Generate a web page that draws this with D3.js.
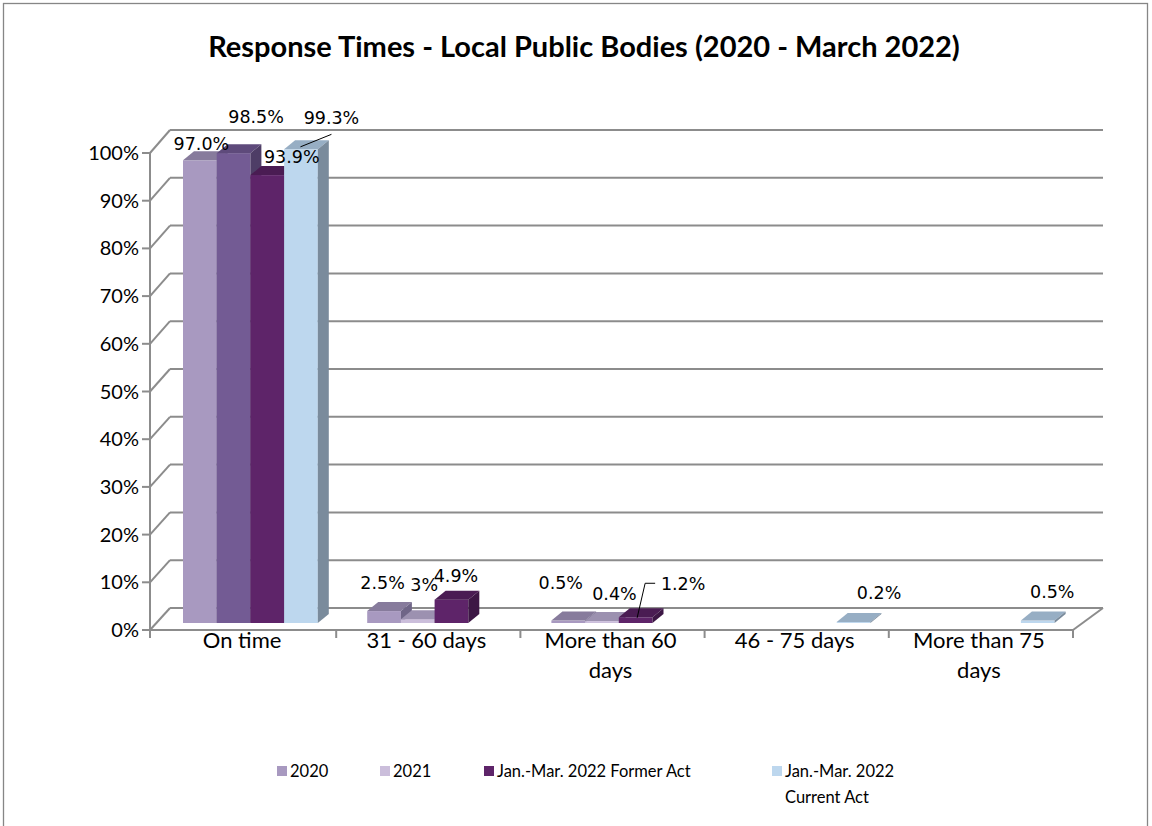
<!DOCTYPE html>
<html><head><meta charset="utf-8">
<script src="https://cdn.jsdelivr.net/npm/d3@7"></script>
<style>
html,body{margin:0;padding:0;background:#fff;}
text{font-family:Lato,"Open Sans",sans-serif;fill:#000;}
</style></head>
<body><svg id="c" width="1152" height="826"></svg>
<script>
// ---------- data ----------
const categories = ["On time", "31 - 60 days", "More than 60 days", "46 - 75 days", "More than 75 days"];
const seriesNames = ["2020", "2021", "Jan.-Mar. 2022 Former Act", "Jan.-Mar. 2022 Current Act"];
const values2020    = [97.0, 2.5, 0.5, null, null];
const values2021    = [98.5, 0.8, 0.4, null, null];
const valuesFormer  = [93.9, 4.9, 1.2, null, null];
const valuesCurrent = [99.3, null, null, 0.2, 0.5];
const labels2020    = ["97.0%", "2.5%", "0.5%", null, null];
const labels2021    = ["98.5%", "3%", "0.4%", null, null];
const labelsFormer  = ["93.9%", "4.9%", "1.2%", null, null];
const labelsCurrent = ["99.3%", null, null, "0.2%", "0.5%"];
const yTicks = [0, 10, 20, 30, 40, 50, 60, 70, 80, 90, 100];
const title = "Response Times - Local Public Bodies (2020 - March 2022)";

const seriesValues = [values2020, values2021, valuesFormer, valuesCurrent];
const seriesLabels = [labels2020, labels2021, labelsFormer, labelsCurrent];

// ---------- styles ----------
const faceColors = [
  {front:"#A899C0", top:"#877B9C", side:"#6F6587"},
  {front:"#CBBEDB", top:"#9C91B0", side:"#8A809C"},
  {front:"#5E2469", top:"#4A1C53", side:"#3D1745"},
  {front:"#BDD7EE", top:"#97AEC4", side:"#7A8B9C"}
];
// the 2021 "On time" bar is drawn in a deeper purple in the original
const pointOverride = {"1-0": {front:"#735B94", top:"#5E4A7B", side:"#4E3D66"}};
// manual label nudges (dx, dy) as in the original chart
const labelNudge = {
  "0-0":[-4,5], "1-0":[17,-14], "2-0":[19,4], "3-0":[25,-10],
  "0-1":[-7,-6], "1-1":[1,-12], "2-1":[-1,-2],
  "0-2":[-13,-16], "1-2":[7,-5], "2-2":[42,-12],
  "3-3":[20,-7], "3-4":[9,-7]
};
const leaders = {"3-0":"diag", "2-2":"elbow"};

const svg = d3.select("#c");
const gridColor = "#8C8C8C";

// chart border
svg.append("rect").attr("x",3.5).attr("y",3.5).attr("width",1144).attr("height",830)
  .attr("fill","none").attr("stroke","#868686").attr("stroke-width",1.3);

// title
svg.append("text").attr("x",584).attr("y",57).attr("text-anchor","middle")
  .style("font-weight","bold").style("font-size","29px").text(title);

// geometry
const frontLeft = 150, frontRight = 1073;
const depthDx0 = 20, depthDx1 = 30;
const yFront = d3.scaleLinear().domain([0,100]).range([630,153]);
const yBack  = d3.scaleLinear().domain([0,100]).range([608,130]);
const yBar   = d3.scaleLinear().domain([0,100]).range([623,146]);
const xCat = d3.scaleBand().domain(categories).range([frontLeft+2, frontRight]).padding(0);
const xSer = d3.scaleBand().domain(seriesNames).range([31, 31+4*33.7]).padding(0);
const barDx = 11, barDy = 9;

const grid = svg.append("g").attr("stroke",gridColor).attr("stroke-width",2).attr("fill","none");
yTicks.forEach(t => {
  grid.append("line").attr("x1",frontLeft+depthDx0).attr("x2",frontRight+depthDx1)
    .attr("y1",yBack(t)).attr("y2",yBack(t));
  grid.append("line").attr("x1",frontLeft).attr("y1",yFront(t))
    .attr("x2",frontLeft+depthDx0).attr("y2",yBack(t));
  grid.append("line").attr("x1",frontLeft-8).attr("x2",frontLeft).attr("y1",yFront(t)).attr("y2",yFront(t));
});
grid.append("line").attr("x1",frontLeft).attr("x2",frontLeft).attr("y1",yFront(100)).attr("y2",yFront(0)+8);
grid.append("line").attr("x1",frontLeft).attr("x2",frontRight).attr("y1",yFront(0)).attr("y2",yFront(0));
grid.append("line").attr("x1",frontRight).attr("y1",yFront(0)).attr("x2",frontRight+depthDx1).attr("y2",yBack(0));
categories.forEach(c => {
  const x = xCat(c) + xCat.bandwidth();
  grid.append("line").attr("x1",x).attr("x2",x).attr("y1",yFront(0)).attr("y2",yFront(0)+8);
});

// y tick labels
svg.append("g").selectAll("text").data(yTicks).join("text")
  .attr("x",139).attr("y",d=>yFront(d)).attr("dy","0.35em").attr("text-anchor","end")
  .style("font-size","20px").text(d=>d+"%");

// category labels with wrapping
const catG = svg.append("g");
categories.forEach(c => {
  const cx = xCat(c) + xCat.bandwidth()/2 - 2;
  const t = catG.append("text").attr("x",cx).attr("y",648).attr("text-anchor","middle").style("font-size","22px");
  const words = c.split(" ");
  let line = [];
  let tsp = t.append("tspan").attr("x",cx).attr("dy",0);
  words.forEach(w => {
    line.push(w);
    tsp.text(line.join(" "));
    if (tsp.node().getComputedTextLength() > 150 && line.length > 1) {
      line.pop(); tsp.text(line.join(" "));
      line = [w];
      tsp = t.append("tspan").attr("x",cx).attr("dy",30).text(w);
    }
  });
});

// bars
const barsG = svg.append("g");
const labG = svg.append("g");
categories.forEach((c, ci) => {
  seriesNames.forEach((s, si) => {
    const v = seriesValues[si][ci];
    if (v == null) return;
    const key = si+"-"+ci;
    const col = pointOverride[key] || faceColors[si];
    const x0 = xCat(c) + xSer(s), w = xSer.bandwidth();
    const yt = yBar(v), yb = yBar(0);
    const g = barsG.append("g");
    g.append("rect").attr("x",x0).attr("y",yt).attr("width",w).attr("height",yb-yt).attr("fill",col.front);
    g.append("path").attr("d",`M${x0},${yt}L${x0+barDx},${yt-barDy}L${x0+w+barDx},${yt-barDy}L${x0+w},${yt}Z`).attr("fill",col.top);
    g.append("path").attr("d",`M${x0+w},${yt}L${x0+w+barDx},${yt-barDy}L${x0+w+barDx},${yb-barDy}L${x0+w},${yb}Z`).attr("fill",col.side);
  });
});
categories.forEach((c, ci) => {
  seriesNames.forEach((s, si) => {
    const lab = seriesLabels[si][ci];
    if (lab == null) return;
    const v = seriesValues[si][ci];
    const key = si+"-"+ci;
    const nd = labelNudge[key] || [0,0];
    const bx = xCat(c) + xSer(s) + xSer.bandwidth()/2 + barDx/2;
    const btop = yBar(v) - barDy/2;
    const lx = bx + nd[0], ly = btop - barDy/2 - 13 + nd[1];
    labG.append("text").attr("x",lx).attr("y",ly).attr("dy","0.36em").attr("text-anchor","middle")
      .style("font-family","'DejaVu Sans',sans-serif").style("font-size","17.5px").text(lab);
    if (leaders[key] === "diag") {
      labG.append("line").attr("x1",lx).attr("y1",ly+17).attr("x2",bx-6).attr("y2",btop+2)
        .attr("stroke","#000").attr("stroke-width",1);
    } else if (leaders[key] === "elbow") {
      labG.append("path").attr("d",`M${lx-28},${ly}L${lx-38},${ly}L${bx-4},${btop+5}`)
        .attr("fill","none").attr("stroke","#000").attr("stroke-width",1);
    }
  });
});

// legend
const legendX = [277, 380, 484, 772];
const legG = svg.append("g");
seriesNames.forEach((s, si) => {
  legG.append("rect").attr("x",legendX[si]).attr("y",766).attr("width",10).attr("height",10).attr("fill",faceColors[si].front);
  const t = legG.append("text").attr("x",legendX[si]+13).attr("y",771).attr("dy","0.35em").style("font-size","16.5px");
  if (si === 3) {
    t.append("tspan").attr("x",legendX[si]+13).text("Jan.-Mar. 2022");
    t.append("tspan").attr("x",legendX[si]+13).attr("dy",26).text("Current Act");
  } else t.text(s);
});
</script></body></html>
